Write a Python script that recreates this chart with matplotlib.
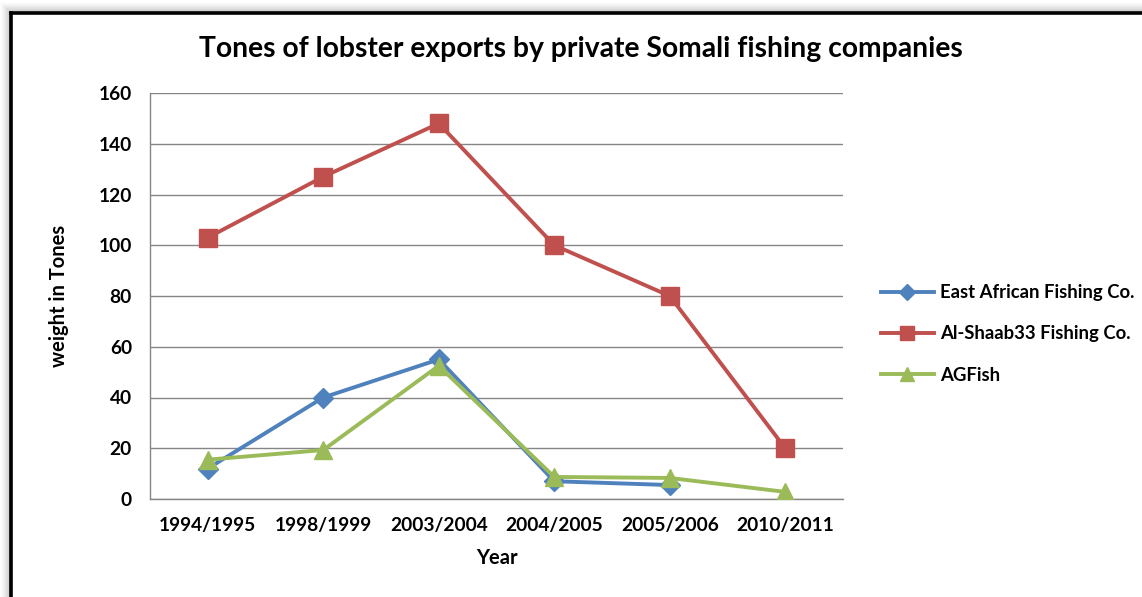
import matplotlib
matplotlib.use("Agg")
import matplotlib.pyplot as plt
from matplotlib.lines import Line2D

years = ["1994/1995", "1998/1999", "2003/2004", "2004/2005", "2005/2006", "2010/2011"]
east_african = [12, 40, 55, 7, 5.5, None]
al_shaab = [103, 127, 148, 100, 80, 20]
agfish = [15.5, 19.3, 52.5, 8.7, 8.3, 2.8]
series_names = ["East African Fishing Co.", "Al-Shaab33 Fishing Co.", "AGFish"]
title = "Tones of lobster exports by private Somali fishing companies"

plt.rcParams['font.family'] = ['Lato', 'DejaVu Sans']
plt.rcParams['font.weight'] = 'bold'

W, H = 1142, 597
fig = plt.figure(figsize=(W / 100, H / 100), dpi=100)
fig.patch.set_facecolor('white')


def px_line(x0, y0, x1, y1, **kw):
    fig.add_artist(Line2D([x0 / W, x1 / W], [1 - y0 / H, 1 - y1 / H],
                          transform=fig.transFigure, **kw))


# drop shadow of the frame
for d in range(1, 12):
    a = 0.45 * (1 - d / 12) ** 1.5
    c = (0.45, 0.45, 0.45, a)
    px_line(11 - d, 13 - d, W + 5, 13 - d, color=c, lw=0.8, solid_capstyle='butt')
    px_line(11 - d, 13 - d, 11 - d, H + 5, color=c, lw=0.8, solid_capstyle='butt')
# frame
px_line(11, 13, W + 5, 13, color='black', lw=2.6, solid_capstyle='projecting', zorder=10)
px_line(11, 13, 11, H + 5, color='black', lw=2.6, solid_capstyle='projecting', zorder=10)

ax = fig.add_axes([150 / W, 1 - 499 / H, (843 - 150) / W, (499 - 93) / H])
x = list(range(len(years)))

ax.plot(x, [v if v is not None else float('nan') for v in east_african],
        color='#4F81BD', lw=2.8, marker='D', ms=10.5, label=series_names[0], zorder=3)
ax.plot(x, al_shaab, color='#C0504D', lw=2.8, marker='s', ms=12.5, label=series_names[1], zorder=3)
ax.plot(x, agfish, color='#9BBB59', lw=2.8, marker='^', ms=13.5, label=series_names[2], zorder=4)

ax.set_xlim(-0.5, len(years) - 0.5)
ax.set_ylim(0, 160)
ax.set_yticks(range(0, 161, 20))
ax.set_xticks(x)
ax.set_xticklabels(years)
ax.tick_params(axis='both', length=0, labelsize=13.8)
ax.tick_params(axis='y', pad=13)
ax.tick_params(axis='x', pad=13)
ax.grid(axis='y', color='#868686', lw=1)
ax.set_axisbelow(True)
for s in ['top', 'right']:
    ax.spines[s].set_visible(False)
for s in ['left', 'bottom']:
    ax.spines[s].set_color('#868686')
    ax.spines[s].set_linewidth(1)

ax.set_xlabel("Year", fontsize=14.5, fontweight='bold', labelpad=10)
ax.set_ylabel("weight in Tones", fontsize=14.5, fontweight='bold', labelpad=21)

fig.text(581 / W, 1 - 49 / H, title, ha='center', va='center', fontsize=20.3, fontweight='bold')

leg = fig.legend(loc='center left', bbox_to_anchor=(864 / W, 1 - 334 / H), frameon=False,
                 fontsize=13.3, handlelength=2.9, handletextpad=0.3, labelspacing=1.3,
                 markerscale=0.75)

fig.savefig("out.png", dpi=100)
